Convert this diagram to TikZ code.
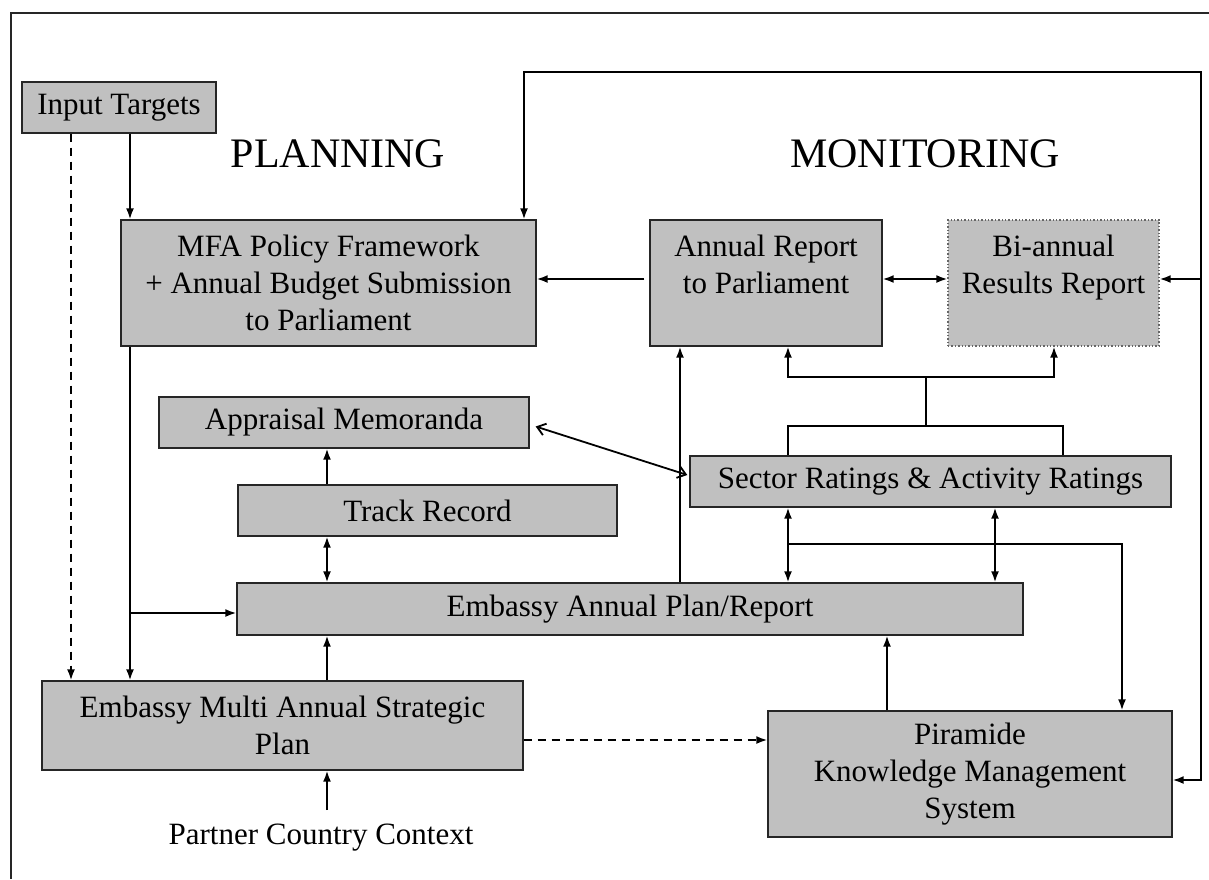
\documentclass[tikz,border=0pt]{standalone}
\usepackage{fontspec}
\setmainfont{Liberation Serif}
\usetikzlibrary{arrows.meta}
\definecolor{boxgray}{RGB}{192,192,192}
\tikzset{
  box/.style={draw=black!85, fill=boxgray, line width=0.7pt, inner sep=0pt,
    align=center, font=\fontsize{15.5}{18.5}\selectfont},
  title/.style={font=\fontsize{21}{25}\selectfont},
  arr/.style={-{Latex[length=5.5pt,width=4pt]}, line width=0.9pt},
  dbl/.style={{Latex[length=5.5pt,width=4pt]}-{Latex[length=5.5pt,width=4pt]}, line width=0.9pt},
  barb/.style={{Straight Barb[length=4pt,width=6pt]}-{Straight Barb[length=4pt,width=6pt]}, line width=0.9pt},
  plain/.style={line width=0.9pt}
}

\begin{document}
\begin{tikzpicture}[x=0.5pt,y=-0.5pt]
    \useasboundingbox (0,0) rectangle (1209,879);
    \draw[line width=0.9pt, black!85] (1209,13) -- (11,13) -- (11,879);

    % titles
    \node[title] (planning) at (338,154) {PLANNING};
    \node[title] (monitoring) at (925,154) {MONITORING};

    % boxes
    \node[box, minimum width=97pt, minimum height=25.5pt] (input) at (119,107.5) {Input Targets};
    \node[box, minimum width=207.5pt, minimum height=63pt] (mfa) at (328.5,283) {MFA Policy Framework\\+ Annual Budget Submission\\to Parliament};
    \node[box, minimum width=116pt, minimum height=63pt] (annrep) at (766,283) {Annual Report\\to Parliament\\\mbox{}};
    \node[box, minimum width=105.5pt, minimum height=63pt, draw=black!60, densely dotted] (biannual) at (1053.5,283) {Bi-annual\\Results Report\\\mbox{}};
    \node[box, minimum width=185pt, minimum height=25.5pt] (appraisal) at (344,422.5) {Appraisal Memoranda};
    \node[box, minimum width=240.5pt, minimum height=25.5pt] (sector) at (930.5,481.5) {Sector Ratings \& Activity Ratings};
    \node[box, minimum width=189.5pt, minimum height=25.5pt] (track) at (427.5,510.5) {Track Record};
    \node[box, minimum width=393pt, minimum height=26pt] (eap) at (630,609) {Embassy Annual Plan/Report};
    \node[box, minimum width=240.5pt, minimum height=44.5pt] (emasp) at (282.5,725.5) {Embassy Multi Annual Strategic\\Plan};
    \node[box, minimum width=202pt, minimum height=63pt] (piramide) at (970,774) {Piramide\\Knowledge Management\\System};
    \node[font=\fontsize{15.5}{18.5}\selectfont, inner sep=0pt] (partner) at (321,838) {Partner Country Context};

    % columns and rows of the connectors
    \coordinate (xin) at (130,0);
    \coordinate (xdash) at (71,0);
    \coordinate (xmid) at (327,0);
    \coordinate (xloop) at (524,0);
    \coordinate (xup) at (680,0);
    \coordinate (xl) at (788,0);
    \coordinate (xpir) at (887,0);
    \coordinate (xr) at (995,0);
    \coordinate (xbi) at (1054,0);
    \coordinate (xsr) at (1063,0);
    \coordinate (xpk) at (1122,0);
    \coordinate (ytop) at (0,72);
    \coordinate (ysplit) at (0,544);
    \coordinate (yeap) at (0,613);
    \coordinate (ydash) at (0,740);
    \coordinate (ypir) at (0,780);
    \coordinate (loop) at (1201,279);
    \coordinate (fork) at (926,377);
    \coordinate (join) at (926,426);

    % planning side
    \draw[arr] (input.south -| xin) -- (mfa.north -| xin);
    \draw[arr, dash pattern=on 4pt off 3pt] (input.south -| xdash) -- (emasp.north -| xdash);
    \draw[arr] (mfa.south -| xin) -- (emasp.north -| xin);
    \draw[arr] (yeap -| xin) -- (eap.west |- yeap);
    \draw[arr] (track.north -| xmid) -- (appraisal.south -| xmid);
    \draw[dbl] (track.south -| xmid) -- (eap.north -| xmid);
    \draw[arr] (emasp.north -| xmid) -- (eap.south -| xmid);
    \draw[arr, shorten <=7pt] (partner.north -| xmid) -- (emasp.south -| xmid);
    \draw[arr, dash pattern=on 4pt off 3pt] (emasp.east |- ydash) -- (piramide.west |- ydash);

    % monitoring side
    \draw[arr, shorten <=2.5pt] (annrep.west |- loop) -- (mfa.east |- loop);
    \draw[dbl] (annrep.east |- loop) -- (biannual.west |- loop);
    \draw[arr] (loop) |- (ytop -| xloop) -- (mfa.north -| xloop);
    \draw[arr] (loop) -- (biannual.east |- loop);
    \draw[arr] (loop) |- (piramide.east |- ypir);
    \draw[arr] (eap.north -| xup) -- (annrep.south -| xup);
    \draw[plain] (sector.north -| xl) |- (join -| xsr) -- (sector.north -| xsr);
    \draw[plain] (join) -- (fork);
    \draw[arr] (fork) -| (annrep.south -| xl);
    \draw[arr] (fork) -| (biannual.south -| xbi);
    \draw[barb] ([shift={(3pt,-2pt)}]appraisal.east) -- ([shift={(-1pt,3.25pt)}]sector.west);
    \draw[dbl] (sector.south -| xl) -- (eap.north -| xl);
    \draw[dbl] (sector.south -| xr) -- (eap.north -| xr);
    \draw[arr] (ysplit -| xl) -| (piramide.north -| xpk);
    \draw[arr] (piramide.north -| xpir) -- (eap.south -| xpir);
\end{tikzpicture}
\end{document}
